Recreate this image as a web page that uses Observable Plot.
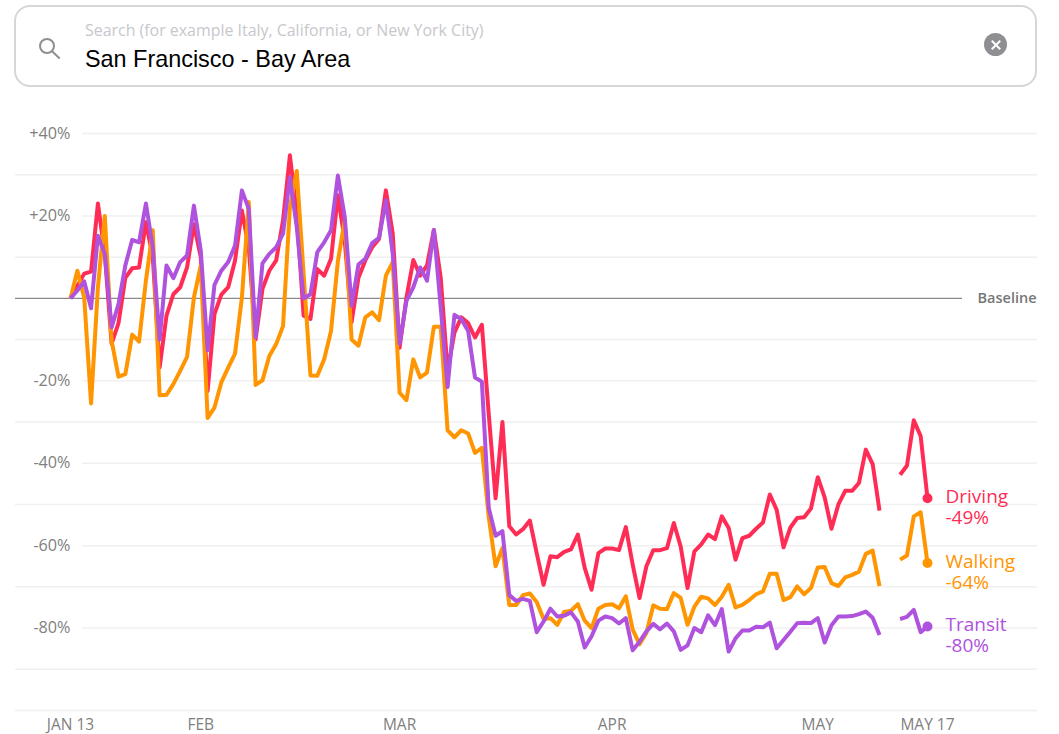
<!DOCTYPE html>
<html>
<head>
<meta charset="utf-8">
<script src="https://cdn.jsdelivr.net/npm/d3@7"></script>
<script src="https://cdn.jsdelivr.net/npm/@observablehq/plot@0.6"></script>
<style>
  html, body { margin: 0; padding: 0; background: #fff; }
  body { width: 1059px; height: 734px; overflow: hidden; position: relative; font-family: "Open Sans", sans-serif; }
  #head { position: relative; height: 96px; }
  #box { position: absolute; left: 14px; top: 5px; width: 1019px; height: 78px; border: 2px solid #d6d6da; border-radius: 16px; box-sizing: content-box; }
  #ph { position: absolute; left: 85px; top: 20px; font-size: 15.93px; line-height: 20px; color: #c7c7cc; white-space: nowrap; }
  #val { position: absolute; left: 85px; top: 45px; font-family: "Liberation Sans", Arial, sans-serif; font-size: 23.4px; line-height: 29px; color: #000; white-space: nowrap; }
  #lens { position: absolute; left: 39px; top: 38px; width: 12px; height: 12px; border: 2px solid #8e8e93; border-radius: 50%; }
  #handle { position: absolute; left: 51px; top: 54px; width: 10px; height: 2px; background: #8e8e93; transform: rotate(43deg); }
  #clear { position: absolute; left: 984px; top: 33px; width: 23px; height: 23px; border-radius: 50%; background: #8e8e93; }
  #clear i { position: absolute; left: 5.5px; top: 10.5px; width: 12px; height: 2px; background: #fff; }
  #clear i.a { transform: rotate(45deg); }
  #clear i.b { transform: rotate(-45deg); }
  #chart svg { display: block; }
</style>
</head>
<body>
<div id="head">
  <div id="box"></div>
  <div id="ph">Search (for example Italy, California, or New York City)</div>
  <div id="val">San Francisco - Bay Area</div>
  <div id="lens"></div><div id="handle"></div>
  <div id="clear"><i class="a"></i><i class="b"></i></div>
</div>
<div id="chart"></div>
<script>
const startDate = "2020-01-13";
const seriesNames = ["Driving", "Walking", "Transit"];
const seriesColors = ["#ff2d55", "#ff9500", "#af52de"];
const driving = [0,3,6,6.5,23,10.8,-11,-6,5,7.3,7.5,18.5,10,-16.8,-4.2,1,2.7,7.5,18,10,-22.5,-3.8,0.9,2.7,9.2,21.3,12.4,-10,2.3,6.7,9.2,18.9,34.7,20.5,-4.2,-5,7.1,5.5,9.6,25,14,-5.8,5,9.2,12.4,14.4,26.2,15.7,-12,0.2,9.3,5.5,8,16.6,5,-17.6,-8.3,-4.6,-6,-9.5,-6.4,-28,-48.5,-30,-55.3,-57.3,-56,-53.9,-61.8,-69.5,-62.6,-62.8,-61.5,-60.9,-57.3,-65.4,-70.7,-61.8,-60.7,-60.7,-61.1,-55.5,-64.6,-72.7,-65,-61.1,-61.1,-60.6,-54.5,-60.2,-70.3,-61.4,-59.7,-57.3,-58.4,-52.9,-55.7,-63.4,-58.2,-57.6,-55.9,-54.4,-47.6,-51.3,-60.4,-55.6,-53.3,-53.1,-51,-43.4,-48.3,-55.9,-50,-46.7,-46.7,-44.8,-36.7,-40.2,-51.5,null,null,-42.8,-40.6,-29.6,-33.4,-48.5];
const walking = [0,6.7,0.2,-25.5,2.7,20,-10.3,-19,-18.4,-8.8,-10.5,4.3,16.5,-23.5,-23.4,-20.8,-17.6,-14.2,0.2,8,-29,-26.5,-20.4,-16.8,-13.4,0.2,23.4,-21,-19.9,-14,-11.1,-6.7,22,30.9,6,-18.7,-18.8,-14.8,-7.9,9,19,-10,-11.5,-4.6,-3.4,-5.3,5.5,8.8,-22.9,-24.7,-14.8,-19.2,-18,-6.9,-6.9,-32,-33.7,-32,-32.8,-37.5,-36.3,-53,-65,-60.6,-74.4,-74.4,-72,-71.6,-73.7,-77.8,-77.6,-79.2,-76.1,-75.8,-74.2,-78.2,-80,-75.3,-74.4,-74.2,-75.2,-72.3,-80.4,-83.9,-81.2,-74.5,-75.3,-75.4,-71.5,-72.7,-79.2,-74.8,-72.4,-72.8,-74.4,-72.4,-69.5,-75,-74.4,-73.2,-71.8,-71.1,-66.8,-66.8,-73.2,-72.5,-69.9,-71.8,-70.3,-65.3,-65.2,-69.1,-69.8,-67.7,-67.1,-66.3,-62,-61.2,-69.8,null,null,-63.4,-62.4,-52.9,-51.9,-64.2];
const transit = [0,1.9,4.1,-2.4,15.2,10.8,-7,-1.4,8,14.2,13.6,23,12.4,-10,8,4.9,8.8,10.4,22.5,11.6,-12.6,3.3,6.7,8.8,12.8,26.2,21.7,-9.5,8.5,10.8,12.4,15.7,29.4,17.3,0,1,11.2,13.6,16.5,29.8,19.7,-1.8,8.2,9.6,13.4,14.7,23.8,10.8,-11,-0.6,2.7,7.5,4.3,16.6,-2.2,-21.5,-4,-5,-7.9,-19.2,-20.2,-50.8,-57.6,-56.5,-72,-73.4,-72.9,-73.4,-81,-78.4,-75.3,-77.2,-77,-76.2,-78.4,-84.7,-82,-78.2,-77.2,-77.6,-78.9,-77.6,-85.4,-83.3,-80.8,-79,-80.3,-78.9,-80.8,-85.3,-84.2,-80,-81,-76.9,-79.3,-75.4,-85.7,-82.5,-80.6,-80.6,-79.7,-79.8,-78.7,-84.9,-82.9,-80.9,-78.8,-78.7,-78.8,-77.6,-83.5,-79.3,-77.2,-77.2,-77.1,-76.6,-76,-77.5,-81.7,null,null,-77.8,-77.3,-75.6,-81,-79.6];
const seriesValues = [driving, walking, transit];
const endLabels = ["-49%", "-64%", "-80%"];
const tickDates = ["2020-01-13", "2020-02-01", "2020-03-01", "2020-04-01", "2020-05-01", "2020-05-17"];
const tickLabels = ["JAN 13", "FEB", "MAR", "APR", "MAY", "MAY 17"];
const yLabelled = [40, 20, -20, -40, -60, -80];
const yMajor = [40, 20, -20, -40, -60, -80];
const yMinor = [30, 10, -10, -30, -50, -70, -90, -100];

const parse = d3.utcParse("%Y-%m-%d");
const t0 = parse(startDate);
const rows = seriesNames.flatMap((name, s) =>
  seriesValues[s].map((v, i) => ({series: name, date: d3.utcDay.offset(t0, i), value: v})));
const ends = seriesNames.map((name, s) => ({
  series: name, color: seriesColors[s], label: endLabels[s],
  date: d3.utcDay.offset(t0, seriesValues[s].length - 1),
  value: seriesValues[s][seriesValues[s].length - 1]
}));
const labelText = new Map(tickDates.map((d, i) => [+parse(d), tickLabels[i]]));
const lastDate = parse(tickDates[tickDates.length - 1]);

const plot = Plot.plot({
  width: 1059,
  height: 638,
  marginLeft: 70,
  marginRight: 132,
  marginTop: 37,
  marginBottom: 24,
  style: {fontFamily: '"Open Sans", sans-serif', background: "transparent", overflow: "visible"},
  x: {type: "utc", domain: [t0, lastDate]},
  y: {domain: [-100, 40]},
  color: {domain: seriesNames, range: seriesColors},
  marks: [
    Plot.ruleY(yMinor, {stroke: "#f0f0f0", strokeWidth: 1.5, insetLeft: -55, insetRight: -110}),
    Plot.ruleY(yMajor, {stroke: "#f0f0f0", strokeWidth: 1.5, insetLeft: 12, insetRight: -110}),
    Plot.ruleY([0], {stroke: "#8a8a8a", strokeWidth: 1.3, insetLeft: -55, insetRight: -35}),
    Plot.axisY({ticks: yLabelled, anchor: "left", tickSize: 0, tickPadding: 0, label: null,
      tickFormat: d => (d > 0 ? "+" : "") + d + "%", fontSize: 16.2, fill: "#808080"}),
    Plot.axisX({ticks: tickDates.map(parse), anchor: "bottom", tickSize: 0, tickPadding: 8, label: null,
      tickFormat: d => labelText.get(+d), fontSize: 15.5, fill: "#808080"}),
    Plot.line(rows, {x: "date", y: "value", z: "series", stroke: "series", strokeWidth: 4,
      strokeLinejoin: "round", strokeLinecap: "butt", curve: "linear"}),
    Plot.dot(ends, {x: "date", y: "value", fill: "color", r: 5}),
    Plot.text(ends, {x: "date", y: "value", text: d => d.series + "\n" + d.label, fill: "color",
      textAnchor: "start", dx: 18, dy: 8.5, lineHeight: 1.105, fontSize: 19}),
    Plot.text([0], {x: () => lastDate, y: d => d, text: () => "Baseline", textAnchor: "start", dx: 50, fill: "#777", fontWeight: 600, fontSize: 14.5})
  ]
});
document.getElementById("chart").appendChild(plot);
</script>
</body>
</html>
